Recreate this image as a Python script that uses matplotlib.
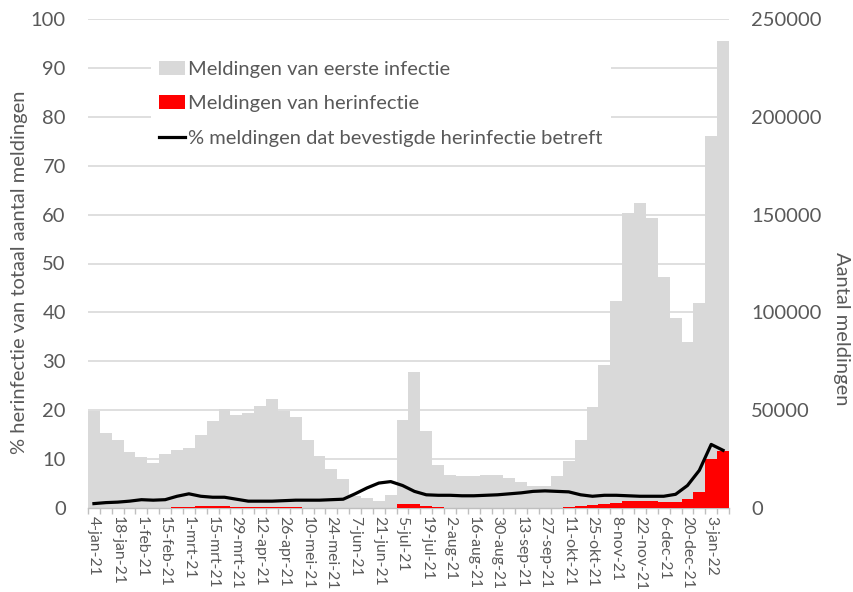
import matplotlib
matplotlib.use("Agg")
import matplotlib.pyplot as plt
from matplotlib.patches import Patch
from matplotlib.lines import Line2D
import numpy as np

plt.rcParams['font.family'] = ['Lato', 'DejaVu Sans']

# weekly data, 4-jan-21 .. 10-jan-22 (54 weeks)
eerste_infectie = [49700, 38500, 34700, 28700, 26000, 23200, 27700, 29800, 30500, 37300,
                   44700, 50700, 47500, 48700, 52200, 55700, 49500, 46700, 35000, 26500,
                   20000, 14700, 6200, 5000, 3500, 6500, 45200, 69700, 39200, 22000,
                   16700, 16200, 16200, 16700, 16700, 15200, 13500, 11500, 11500, 16200,
                   24000, 35000, 51500, 73200, 105700, 150700, 155700, 148200, 118000, 97000,
                   84700, 104700, 190000, 238700]
herinfectie = [0, 0, 0, 0, 0, 0, 0, 500, 500, 1000,
               1000, 1000, 500, 500, 500, 500, 500, 500, 0, 0,
               0, 0, 0, 0, 0, 0, 2000, 2000, 1000, 500,
               0, 0, 0, 0, 0, 0, 0, 0, 0, 0,
               600, 1000, 1500, 2200, 2700, 3500, 3700, 3700, 3000, 3000,
               4500, 8000, 25000, 29000]
pct_herinfectie = [0.9, 1.1, 1.2, 1.4, 1.7, 1.6, 1.7, 2.4, 2.9, 2.4,
                   2.2, 2.2, 1.8, 1.4, 1.4, 1.4, 1.5, 1.6, 1.6, 1.6,
                   1.7, 1.8, 2.9, 4.1, 5.1, 5.4, 4.6, 3.4, 2.7, 2.6,
                   2.6, 2.5, 2.5, 2.6, 2.7, 2.9, 3.1, 3.4, 3.5, 3.4,
                   3.3, 2.7, 2.4, 2.6, 2.6, 2.5, 2.4, 2.4, 2.4, 2.8,
                   4.6, 7.7, 13.0, 11.8]
tick_labels = ['4-jan-21', '18-jan-21', '1-feb-21', '15-feb-21', '1-mrt-21', '15-mrt-21',
               '29-mrt-21', '12-apr-21', '26-apr-21', '10-mei-21', '24-mei-21', '7-jun-21',
               '21-jun-21', '5-jul-21', '19-jul-21', '2-aug-21', '16-aug-21', '30-aug-21',
               '13-sep-21', '27-sep-21', '11-okt-21', '25-okt-21', '8-nov-21', '22-nov-21',
               '6-dec-21', '20-dec-21', '3-jan-22']

TXT = '#595959'
GRID = '#d9d9d9'

fig = plt.figure(figsize=(8.54, 5.92), dpi=100)
ax = fig.add_axes([88/854, 1-508/592, 641/854, 489/592])
x = np.arange(len(eerste_infectie))

ax.bar(x, eerste_infectie, width=1.0, color='#d9d9d9', linewidth=0, zorder=2)
ax.bar(x, herinfectie, width=1.0, color='#ff0000', linewidth=0, zorder=3)
ax.set_ylim(0, 250000)
ax.set_xlim(-0.5, len(x) - 0.5)
for v in np.arange(25000, 250001, 25000):
    ax.axhline(v, color=GRID, lw=1.2, zorder=1)

ax2 = ax.twinx()
ax2.plot(x, pct_herinfectie, color='black', lw=2.3, zorder=5)
ax2.set_ylim(0, 100)
ax2.set_yticks(np.arange(0, 101, 10))
ax2.yaxis.tick_left()

ax.set_yticks(np.arange(0, 250001, 50000))
ax.yaxis.tick_right()

fig.text(20/854, 1-272/592, '% herinfectie van totaal aantal meldingen', rotation=90,
         ha='center', va='center', fontsize=14.5, color=TXT)
fig.text(842/854, 1-329/592, 'Aantal meldingen', rotation=270,
         ha='center', va='center', fontsize=14.5, color=TXT)

for a in (ax, ax2):
    for s in ('top', 'left', 'right'):
        a.spines[s].set_visible(False)
    a.tick_params(axis='y', length=0, labelsize=14.5, labelcolor=TXT, pad=16)
ax2.spines['bottom'].set_visible(False)
ax.spines['bottom'].set_color('#bfbfbf')
ax.spines['bottom'].set_linewidth(1.0)

ax.set_xticks(x[::2])
ax.set_xticklabels(tick_labels, rotation=270, fontsize=11.3, color=TXT)
ax.set_xticks(np.arange(-0.5, len(x), 1), minor=True)
ax.tick_params(axis='x', which='major', length=0, pad=6)
ax.tick_params(axis='x', which='minor', length=4, color='#bfbfbf', width=1)

handles = [Patch(facecolor='#d9d9d9', edgecolor='none'),
           Patch(facecolor='#ff0000', edgecolor='none'),
           Line2D([0], [0], color='black', lw=2.3)]
labels = ['Meldingen van eerste infectie', 'Meldingen van herinfectie',
          '% meldingen dat bevestigde herinfectie betreft']
leg = ax2.legend(handles, labels, loc='upper left', bbox_to_anchor=(63/641, 1-34/489),
                 frameon=True, fontsize=14.5, labelcolor=TXT, handlelength=1.3,
                 handletextpad=0.15, labelspacing=0.85, borderpad=0.4, borderaxespad=0)
leg.get_frame().set_edgecolor('none')
leg.get_frame().set_facecolor('white')
leg.get_frame().set_alpha(1)
leg.get_frame().set_boxstyle('square', pad=0)

fig.savefig('out.png', dpi=100)
